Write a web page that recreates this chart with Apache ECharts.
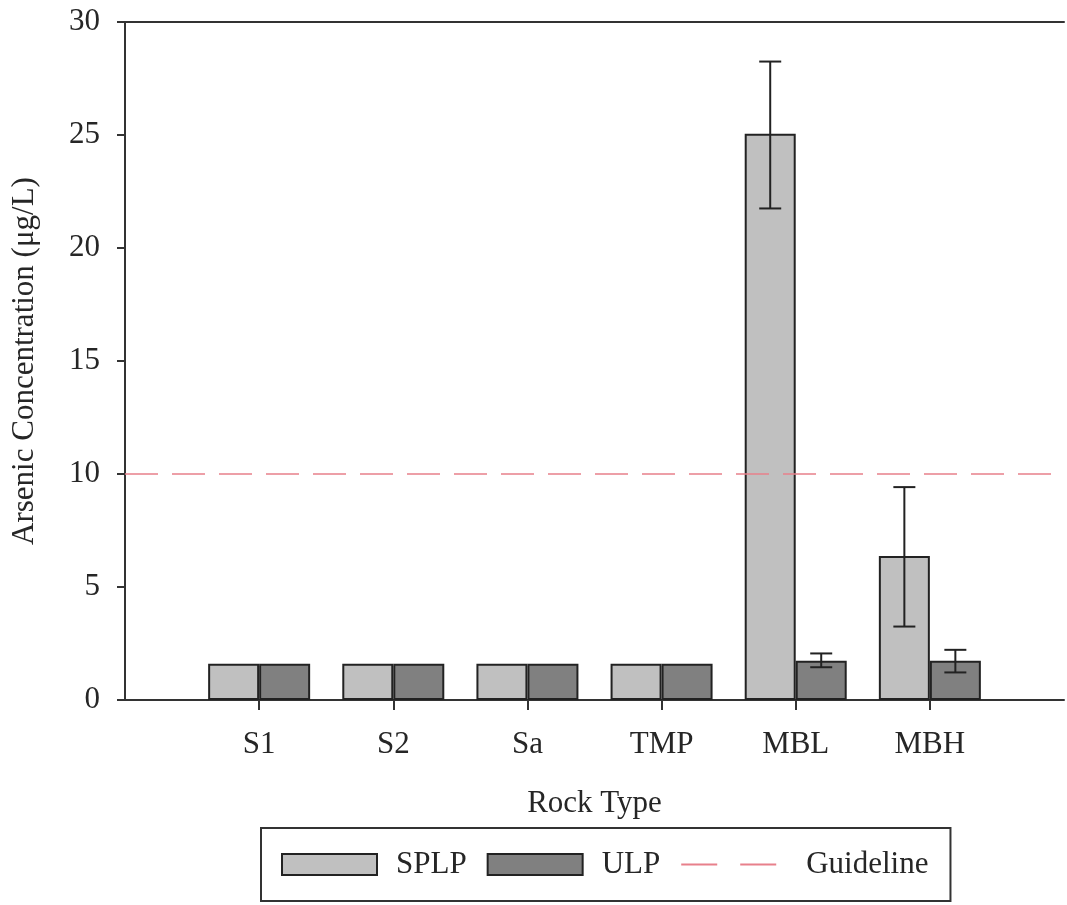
<!DOCTYPE html>
<html>
<head>
<meta charset="utf-8">
<script src="https://cdn.jsdelivr.net/npm/echarts@6/dist/echarts.min.js"></script>
<style>
  html, body { margin: 0; padding: 0; background: #fff; }
  #chart { width: 1067px; height: 905px; }
</style>
</head>
<body>
<div id="chart"></div>
<script>
// Rock types (padded with blank slots so the axis spans 0..7)
var categories = ['', 'S1', 'S2', 'Sa', 'TMP', 'MBL', 'MBH', ''];
// Mean arsenic concentration (µg/L)
var splp = [null, 1.6, 1.6, 1.6, 1.6, 25.05, 6.37, null];
var ulp  = [null, 1.6, 1.6, 1.6, 1.6, 1.74, 1.74, null];
// Error-bar ranges [low, high]
var splpErr = [null, null, null, null, null, [21.75, 28.25], [3.25, 9.42], null];
var ulpErr  = [null, null, null, null, null, [1.45, 2.06], [1.22, 2.22], null];
// Drinking-water guideline (µg/L)
var guideline = 10;
var yTicks = [0, 5, 10, 15, 20, 25, 30];

var FONT = 'Liberation Serif';
var FS = 31;
var TXT = '#262626';
var BAR_W = 51;
var AXIS_COLOR = '#333';
var GUIDE_COLOR = '#e8808b';

function errData(errs) {
  var out = [];
  errs.forEach(function (e, i) { if (e) out.push([i, e[0], e[1]]); });
  return out;
}

function errSeries(name, errs, shift) {
  return {
    type: 'custom',
    name: name + ' error',
    z: 10,
    silent: true,
    data: errData(errs),
    encode: { x: 0, y: [1, 2] },
    renderItem: function (params, api) {
      var lo = api.coord([api.value(0), api.value(1)]);
      var hi = api.coord([api.value(0), api.value(2)]);
      var x = lo[0] + shift;
      var cap = 11;
      var style = { stroke: '#222', lineWidth: 2 };
      return {
        type: 'group',
        children: [
          { type: 'line', shape: { x1: x, y1: lo[1], x2: x, y2: hi[1] }, style: style },
          { type: 'line', shape: { x1: x - cap, y1: lo[1], x2: x + cap, y2: lo[1] }, style: style },
          { type: 'line', shape: { x1: x - cap, y1: hi[1], x2: x + cap, y2: hi[1] }, style: style }
        ]
      };
    }
  };
}

var chart = echarts.init(document.getElementById('chart'));
chart.setOption({
  animation: false,
  backgroundColor: '#fff',
  textStyle: { fontFamily: FONT },
  grid: { left: 125, right: 1, top: 22, bottom: 205 },
  legend: {
    left: 261, top: 828,
    padding: [21, 22, 21, 20],
    borderColor: '#333', borderWidth: 2,
    itemWidth: 95, itemHeight: 21, itemGap: 20,
    textStyle: { fontFamily: FONT, fontSize: FS, color: TXT, padding: [0, 0, 0, 14] },
    data: [
      { name: 'SPLP', icon: 'rect' },
      { name: 'ULP', icon: 'rect' },
      {
        name: 'Guideline',
        itemStyle: { opacity: 0 },
        lineStyle: { type: [36, 23], width: 2, color: GUIDE_COLOR },
        textStyle: { padding: [0, 0, 0, 25] }
      }
    ]
  },
  xAxis: [{
    type: 'category',
    data: categories,
    boundaryGap: false,
    name: 'Rock Type',
    nameLocation: 'middle',
    nameGap: 88,
    nameTextStyle: { fontFamily: FONT, fontSize: FS, color: TXT },
    axisLine: { lineStyle: { color: AXIS_COLOR, width: 2 } },
    axisTick: {
      length: 10, lineStyle: { color: AXIS_COLOR, width: 2 },
      interval: function (i) { return i > 0 && i < categories.length - 1; }
    },
    axisLabel: { fontFamily: FONT, fontSize: FS, color: TXT, margin: 29, interval: 0 },
    splitLine: { show: false }
  }, {
    type: 'category',
    data: categories,
    position: 'top',
    boundaryGap: false,
    axisLine: { lineStyle: { color: AXIS_COLOR, width: 2 } },
    axisTick: { show: false },
    axisLabel: { show: false }
  }],
  yAxis: {
    type: 'value',
    min: yTicks[0], max: yTicks[yTicks.length - 1], interval: 5,
    name: 'Arsenic Concentration (μg/L)',
    nameLocation: 'middle',
    nameGap: 85,
    nameTextStyle: { fontFamily: FONT, fontSize: FS, color: TXT },
    axisLine: { show: true, lineStyle: { color: AXIS_COLOR, width: 2 } },
    axisTick: { show: true, length: 8, lineStyle: { color: AXIS_COLOR, width: 2 } },
    axisLabel: { fontFamily: FONT, fontSize: FS, color: TXT, margin: 25 },
    splitLine: { show: false }
  },
  series: [
    {
      name: 'SPLP', type: 'bar', data: splp,
      barWidth: BAR_W, barGap: '0%',
      itemStyle: { color: '#c0c0c0', borderColor: '#222', borderWidth: 2 }
    },
    {
      name: 'ULP', type: 'bar', data: ulp,
      barWidth: BAR_W, barGap: '0%',
      itemStyle: { color: '#808080', borderColor: '#222', borderWidth: 2 }
    },
    {
      name: 'Guideline', type: 'line',
      data: categories.map(function () { return guideline; }),
      symbol: 'none', z: 5,
      lineStyle: { color: GUIDE_COLOR, width: 1.5, type: [33, 14] },
      itemStyle: { color: GUIDE_COLOR }
    },
    errSeries('SPLP', splpErr, -BAR_W / 2),
    errSeries('ULP', ulpErr, BAR_W / 2)
  ]
});
</script>
</body>
</html>
